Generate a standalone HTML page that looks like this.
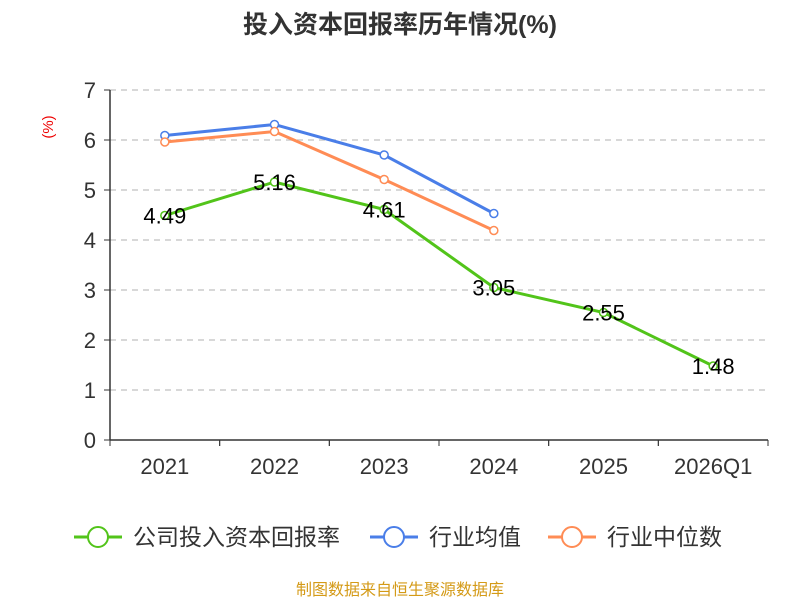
<!DOCTYPE html>
<html><head><meta charset="utf-8"><style>
body{margin:0;background:#fff;font-family:"Liberation Sans","Noto Sans CJK SC",sans-serif}
svg text{font-family:"Liberation Sans","Noto Sans CJK SC",sans-serif}
</style></head><body>
<svg id="c" width="800" height="600">
<text x="400" y="33" text-anchor="middle" font-size="25" font-weight="bold" fill="#333">投入资本回报率历年情况(%)</text>
<text transform="translate(53,127) rotate(-90)" text-anchor="middle" font-size="15" fill="#e00">(%)</text>
<g id="grid"></g><g id="axes"></g><g id="series"></g>
<g font-size="23" fill="#333">
<g><line x1="74" y1="537" x2="122" y2="537" stroke="#52c41a" stroke-width="3"/><circle cx="98" cy="537" r="10" fill="#fff" stroke="#52c41a" stroke-width="2"/><text x="133" y="545">公司投入资本回报率</text></g>
<g><line x1="370" y1="537" x2="418" y2="537" stroke="#4a7ee8" stroke-width="3"/><circle cx="394" cy="537" r="10" fill="#fff" stroke="#4a7ee8" stroke-width="2"/><text x="429" y="545">行业均值</text></g>
<g><line x1="548" y1="537" x2="596" y2="537" stroke="#ff8c55" stroke-width="3"/><circle cx="572" cy="537" r="10" fill="#fff" stroke="#ff8c55" stroke-width="2"/><text x="607" y="545">行业中位数</text></g>
</g>
<text x="400" y="595" text-anchor="middle" font-size="16" fill="#d49a17">制图数据来自恒生聚源数据库</text>
</svg>
<script>
const categories=["2021","2022","2023","2024","2025","2026Q1"];
const roic=[4.49,5.16,4.61,3.05,2.55,1.48];
const industryAvg=[6.09,6.31,5.7,4.53];
const industryMedian=[5.96,6.17,5.21,4.19];
const yTicks=[0,1,2,3,4,5,6,7];
const NS="http://www.w3.org/2000/svg";
const L=110,R=768,T=90,B=440,yMax=7;
const bw=(R-L)/categories.length;
const xs=i=>L+bw*(i+0.5);
const ys=v=>B-(v/yMax)*(B-T);
function mk(p,tag,a){const e=document.createElementNS(NS,tag);for(const k in a)e.setAttribute(k,a[k]);p.appendChild(e);return e;}
const grid=document.getElementById('grid'),axes=document.getElementById('axes'),ser=document.getElementById('series');
yTicks.forEach(t=>{
 if(t>0){const g=mk(grid,'line',{x1:L,x2:R,y1:ys(t),y2:ys(t),stroke:'#ccc','stroke-dasharray':'6,5','stroke-width':1.5});
 
 }
 const tl=mk(axes,'text',{x:L-14,y:ys(t)+8,'text-anchor':'end','font-size':22,fill:'#333'});tl.textContent=t;
 
 
 mk(axes,'line',{x1:L-6,x2:L,y1:ys(t),y2:ys(t),stroke:'#333'});
});
const ya=mk(axes,'line',{x1:L,x2:L,y1:T,y2:B,stroke:'#333','stroke-width':1.5});


const xa=mk(axes,'line',{x1:L,x2:R,y1:B,y2:B,stroke:'#333','stroke-width':1.5});


categories.forEach((c,i)=>{
 for(const x of [L+bw*i,L+bw*(i+1)])mk(axes,'line',{x1:x,x2:x,y1:B,y2:B+6,stroke:'#333'});
 const t=mk(axes,'text',{x:xs(i),y:B+34,'text-anchor':'middle','font-size':22,fill:'#333'});t.textContent=c;
 
 
});
function series(vals,color,name,labels){
 const g=mk(ser,'g',{});
 
 
 mk(g,'polyline',{points:vals.map((v,i)=>xs(i)+','+ys(v)).join(' '),fill:'none',stroke:color,'stroke-width':3});
 vals.forEach((v,i)=>{const c=mk(g,'circle',{cx:xs(i),cy:ys(v),r:4,fill:'#fff',stroke:color,'stroke-width':1.5});
 
 
 if(labels){const t=mk(g,'text',{x:xs(i),y:ys(v)+8,'text-anchor':'middle','font-size':22,fill:'#000'});t.textContent=v.toFixed(2);
 
 }
 });
}
series(industryAvg,'#4a7ee8','industry-avg-line',false);
series(industryMedian,'#ff8c55','industry-median-line',false);
series(roic,'#52c41a','roic-line',true);
</script>
</body></html>
